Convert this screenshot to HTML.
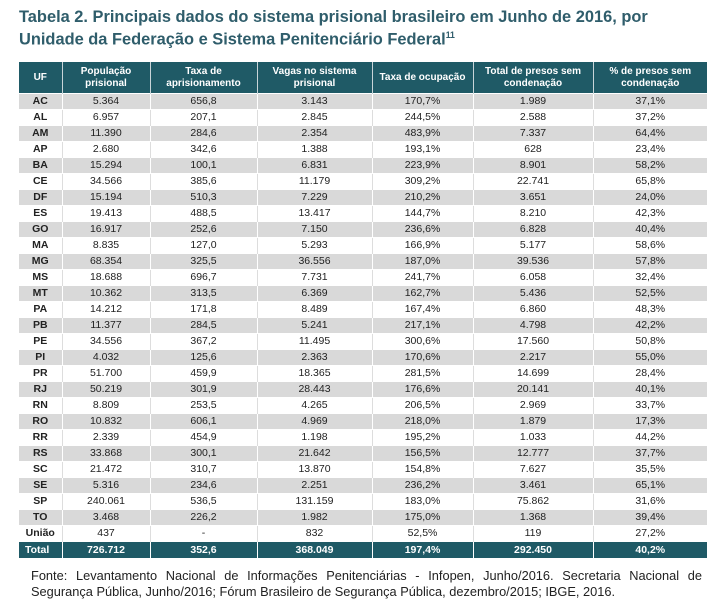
<!DOCTYPE html>
<html><head><meta charset="utf-8">
<style>
html,body{margin:0;padding:0;background:#fff;width:715px;height:603px;overflow:hidden}
body{position:relative;font-family:"Liberation Sans",sans-serif}
#title{position:absolute;left:19px;top:8px;color:#2f5d6b;font-weight:bold;font-size:17px;line-height:18px;transform:scaleX(0.965);transform-origin:left top;white-space:nowrap}
#title sup{font-size:9px}
table{position:absolute;left:19px;top:62px;border-collapse:collapse;table-layout:fixed;width:688px;font-family:"Liberation Sans",sans-serif;font-size:10.5px;color:#222}
th{background:#1f5a66;color:#fff;font-weight:bold;font-size:10px;height:31px;line-height:12px;padding:0;text-align:center;border-left:1px solid #c8d4d8}
th:first-child{border-left:none}
td{height:15px;padding:0;text-align:center;border-left:1px solid #fff;border-top:1px solid #fff;line-height:13px;overflow:hidden}
td:first-child{font-weight:bold;border-left:none}
tr.g td{background:#d9d9d9}
tr.w td{background:#fff;border-left:1px solid #ddd}
tr.w td:first-child{border-left:none}
tr.tot td{background:#1f5a66;color:#fff;font-weight:bold;height:16px;text-align:center}
tr.tot td:first-child{text-align:left;padding-left:6px}
#foot{position:absolute;left:31px;top:568px;width:671px;font-size:12.8px;line-height:16px;color:#222;text-align:justify;text-align-last:left}
</style></head>
<body>
<div id="title">Tabela 2. Principais dados do sistema prisional brasileiro em Junho de 2016, por<br>Unidade da Federação e Sistema Penitenciário Federal<sup>11</sup></div>
<table id="tbl">
<colgroup><col style="width:43px"><col style="width:88px"><col style="width:107px"><col style="width:115px"><col style="width:101px"><col style="width:120px"><col style="width:114px"></colgroup>
<thead><tr>
<th>UF</th>
<th>População<br>prisional</th>
<th>Taxa de<br>aprisionamento</th>
<th>Vagas no sistema<br>prisional</th>
<th>Taxa de ocupação</th>
<th>Total de presos sem<br>condenação</th>
<th>% de presos sem<br>condenação</th>
</tr></thead>
<tbody id="tb"></tbody>
</table>
<div id="foot">Fonte: Levantamento Nacional de Informações Penitenciárias - Infopen, Junho/2016. Secretaria Nacional de Segurança Pública, Junho/2016; Fórum Brasileiro de Segurança Pública, dezembro/2015; IBGE, 2016.</div>
<script>
const ufs=["AC","AL","AM","AP","BA","CE","DF","ES","GO","MA","MG","MS","MT","PA","PB","PE","PI","PR","RJ","RN","RO","RR","RS","SC","SE","SP","TO","União"];
const populacao=["5.364","6.957","11.390","2.680","15.294","34.566","15.194","19.413","16.917","8.835","68.354","18.688","10.362","14.212","11.377","34.556","4.032","51.700","50.219","8.809","10.832","2.339","33.868","21.472","5.316","240.061","3.468","437"];
const taxaApris=["656,8","207,1","284,6","342,6","100,1","385,6","510,3","488,5","252,6","127,0","325,5","696,7","313,5","171,8","284,5","367,2","125,6","459,9","301,9","253,5","606,1","454,9","300,1","310,7","234,6","536,5","226,2","-"];
const vagas=["3.143","2.845","2.354","1.388","6.831","11.179","7.229","13.417","7.150","5.293","36.556","7.731","6.369","8.489","5.241","11.495","2.363","18.365","28.443","4.265","4.969","1.198","21.642","13.870","2.251","131.159","1.982","832"];
const ocupacao=["170,7%","244,5%","483,9%","193,1%","223,9%","309,2%","210,2%","144,7%","236,6%","166,9%","187,0%","241,7%","162,7%","167,4%","217,1%","300,6%","170,6%","281,5%","176,6%","206,5%","218,0%","195,2%","156,5%","154,8%","236,2%","183,0%","175,0%","52,5%"];
const semCond=["1.989","2.588","7.337","628","8.901","22.741","3.651","8.210","6.828","5.177","39.536","6.058","5.436","6.860","4.798","17.560","2.217","14.699","20.141","2.969","1.879","1.033","12.777","7.627","3.461","75.862","1.368","119"];
const pctSemCond=["37,1%","37,2%","64,4%","23,4%","58,2%","65,8%","24,0%","42,3%","40,4%","58,6%","57,8%","32,4%","52,5%","48,3%","42,2%","50,8%","55,0%","28,4%","40,1%","33,7%","17,3%","44,2%","37,7%","35,5%","65,1%","31,6%","39,4%","27,2%"];
const totalRow=["Total","726.712","352,6","368.049","197,4%","292.450","40,2%"];
const tb=document.getElementById('tb');
ufs.forEach((u,i)=>{
  const tr=document.createElement('tr');
  tr.className=i%2===0?'g':'w';
  
  
  [u,populacao[i],taxaApris[i],vagas[i],ocupacao[i],semCond[i],pctSemCond[i]].forEach(v=>{
    const td=document.createElement('td');
    td.textContent=v;
    
    
    tr.appendChild(td);
  });
  tb.appendChild(tr);
});
const tr=document.createElement('tr');
tr.className='tot';


totalRow.forEach(v=>{
  const td=document.createElement('td');
  td.textContent=v;
  
  
  tr.appendChild(td);
});
tb.appendChild(tr);
</script>
</body></html>
